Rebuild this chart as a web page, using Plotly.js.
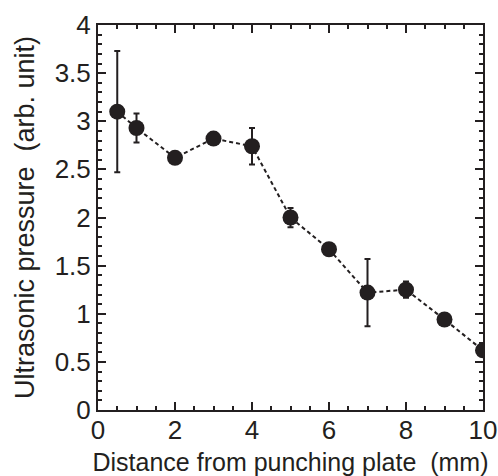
<!DOCTYPE html>
<html>
<head>
<meta charset="utf-8">
<script src="https://cdn.plot.ly/plotly-3.0.1.min.js"></script>
<style>html,body{margin:0;padding:0;background:#fff;}</style>
</head>
<body>
<div id="chart" style="width:498px;height:476px;"></div>
<script>
const distance = [0.5, 1, 2, 3, 4, 5, 6, 7, 8, 9, 10];
const pressure = [3.10, 2.93, 2.62, 2.82, 2.74, 2.00, 1.67, 1.22, 1.25, 0.94, 0.62];
const pressureErr = [0.63, 0.15, 0, 0, 0.19, 0.10, 0, 0.35, 0.085, 0, 0];

const ink = '#231f20';
const family = 'Liberation Sans, Arial, sans-serif';
const tickFont = {family: family, size: 26, color: ink};

const trace = {
  x: distance,
  y: pressure,
  type: 'scatter',
  mode: 'lines+markers',
  line: {color: ink, width: 2, dash: '4px,3px'},
  marker: {color: ink, size: 16},
  error_y: {type: 'data', array: pressureErr, visible: true, color: ink, thickness: 2, width: 3},
  showlegend: false
};

const axisCommon = {
  showgrid: false, zeroline: false, showline: true, linecolor: ink, linewidth: 2,
  mirror: 'allticks', ticks: 'inside', tickcolor: ink, tickwidth: 2, ticklen: 8,
  tickfont: tickFont, ticklabeloverflow: 'allow'
};

const layout = {
  width: 498, height: 476,
  margin: {l: 98, r: 15, t: 25, b: 66},
  paper_bgcolor: '#fff', plot_bgcolor: '#fff',
  font: tickFont,
  xaxis: Object.assign({}, axisCommon, {
    range: [0, 10], dtick: 2, tick0: 0,
    ticklabelstandoff: -4,
    minor: {dtick: 0.5, ticks: 'inside', ticklen: 4, tickwidth: 2, tickcolor: ink},
    title: {text: 'Distance from punching plate\u00a0\u00a0(mm)', font: {family: family, size: 25, color: ink}, standoff: 20}
  }),
  yaxis: Object.assign({}, axisCommon, {
    range: [0, 4], dtick: 0.5, tick0: 0,
    minor: {dtick: 0.1, ticks: 'inside', ticklen: 4, tickwidth: 2, tickcolor: ink},
    title: {text: 'Ultrasonic pressure\u00a0\u00a0(arb. unit)', font: {family: family, size: 27, color: ink}, standoff: 12}
  })
};

Plotly.newPlot('chart', [trace], layout, {displayModeBar: false, staticPlot: true});
</script>
</body>
</html>
